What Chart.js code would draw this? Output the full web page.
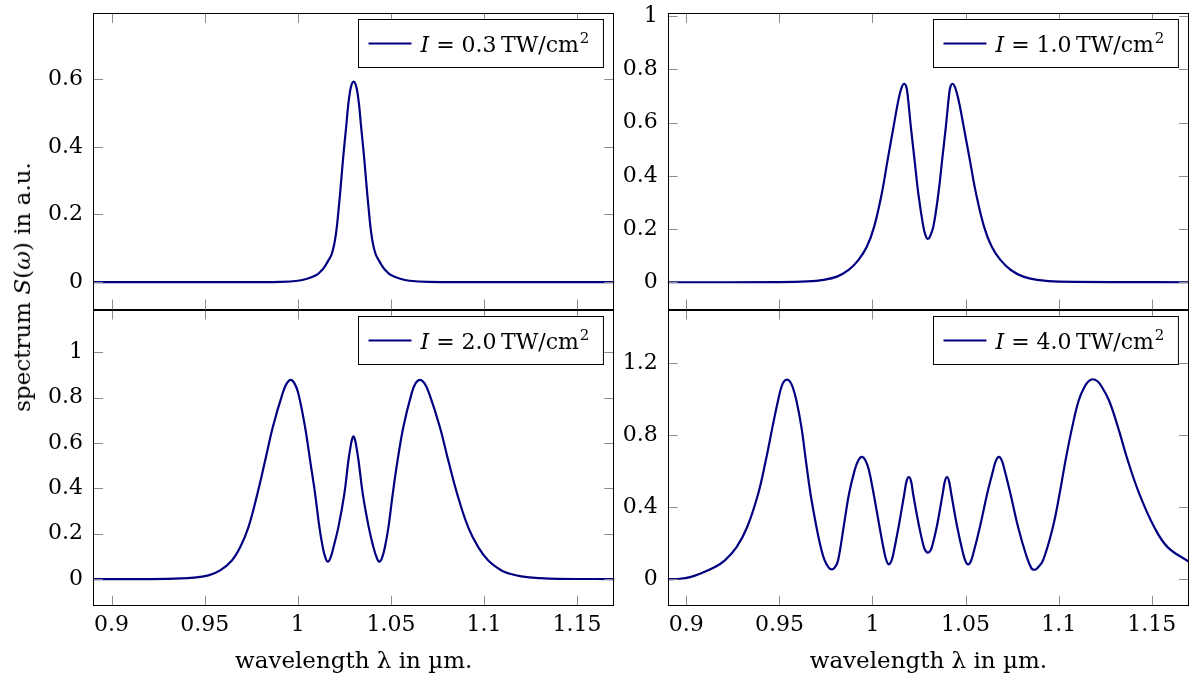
<!DOCTYPE html>
<html>
<head>
<meta charset="utf-8">
<script src="https://cdn.jsdelivr.net/npm/chart.js@4.4.1/dist/chart.umd.min.js"></script>
<style>
  body { margin: 0; background: #fff; width: 1192px; height: 682px; overflow: hidden; position: relative; font-family: "DejaVu Serif", serif; }
  .panel { position: absolute; }
  .panel canvas { display: block; }
  #ytitle { position: absolute; left: 22px; top: 287px; transform: translate(-50%, -50%) rotate(-90deg); white-space: nowrap; font-size: 23px; color: #000; }
</style>
</head>
<body>
<div class="panel" style="left:0;top:0"><canvas id="c03" width="620" height="312"></canvas></div>
<div class="panel" style="left:600px;top:0"><canvas id="c10" width="592" height="312"></canvas></div>
<div class="panel" style="left:0;top:300px"><canvas id="c20" width="620" height="382"></canvas></div>
<div class="panel" style="left:600px;top:300px"><canvas id="c40" width="592" height="382"></canvas></div>
<div id="ytitle">spectrum <i>S</i>(<i>ω</i>) in a.u.</div>
<script>
// wavelength ticks shared by all panels
const xTicks = [0.9, 0.95, 1, 1.05, 1.1, 1.15];

// I = 0.3 TW/cm^2
const lam03 = [0.89, 0.95, 0.98, 0.99, 1.0, 1.005, 1.01, 1.012, 1.014, 1.016, 1.018, 1.019, 1.02, 1.021, 1.022,
  1.023, 1.024, 1.025, 1.026, 1.027, 1.028, 1.029, 1.03, 1.031, 1.032, 1.033, 1.034, 1.035, 1.036, 1.037, 1.038,
  1.039, 1.04, 1.041, 1.042, 1.044, 1.046, 1.048, 1.05, 1.055, 1.06, 1.07, 1.1, 1.17];
const spec03 = [0, 0, 0, 0.0005, 0.004, 0.01, 0.021, 0.03, 0.042, 0.06, 0.08, 0.098, 0.125, 0.165, 0.22,
  0.28, 0.345, 0.405, 0.46, 0.52, 0.562, 0.586, 0.593, 0.586, 0.562, 0.52, 0.46, 0.405, 0.345, 0.28, 0.22,
  0.165, 0.125, 0.098, 0.08, 0.06, 0.042, 0.03, 0.021, 0.01, 0.004, 0.0005, 0, 0];
const yTicks03 = [0, 0.2, 0.4, 0.6];

// I = 1.0 TW/cm^2
const lam10 = [0.89, 0.95, 0.965, 0.9738, 0.9809, 0.9872, 0.9925, 0.997, 1.0009, 1.005, 1.0081, 1.0113, 1.0132, 1.0147,
  1.016, 1.017, 1.018, 1.0188, 1.0206, 1.0226, 1.0246, 1.0273, 1.0286, 1.0298, 1.031, 1.0327, 1.0354, 1.0374, 1.0394,
  1.0412, 1.042, 1.043, 1.044, 1.0454, 1.047, 1.049, 1.0523, 1.0556, 1.0599, 1.064, 1.0687, 1.0743, 1.081, 1.0884,
  1.1, 1.17];
const spec10 = [0, 0.0005, 0.003, 0.009, 0.021, 0.046, 0.084, 0.134, 0.209, 0.334, 0.459, 0.584, 0.659, 0.709,
  0.738, 0.746, 0.738, 0.709, 0.584, 0.459, 0.334, 0.209, 0.174, 0.1625, 0.174, 0.209, 0.334, 0.459, 0.584,
  0.709, 0.738, 0.746, 0.738, 0.709, 0.659, 0.584, 0.459, 0.334, 0.209, 0.134, 0.084, 0.046, 0.021, 0.009,
  0.002, 0];
const yTicks10 = [0, 0.2, 0.4, 0.6, 0.8, 1];

// I = 2.0 TW/cm^2
const lam20 = [0.89, 0.93, 0.944, 0.952, 0.9583, 0.9646, 0.9691, 0.9735, 0.9783, 0.9825, 0.9866, 0.9918, 0.994,
  0.9962, 0.9983, 1.0003, 1.0039, 1.0066, 1.0093, 1.0116, 1.0134, 1.0149, 1.0161, 1.0175, 1.0192, 1.0218, 1.025,
  1.0272, 1.0283, 1.0291, 1.0299, 1.0307, 1.0315, 1.0326, 1.0349, 1.0381, 1.0406, 1.0425, 1.0438, 1.0452, 1.0468,
  1.0487, 1.051, 1.0536, 1.0567, 1.0611, 1.0633, 1.0656, 1.068, 1.0706, 1.0763, 1.0808, 1.0856, 1.0915, 1.0969,
  1.1023, 1.1094, 1.1139, 1.12, 1.13, 1.14, 1.17];
const spec20 = [0, 0.001, 0.006, 0.016, 0.038, 0.082, 0.141, 0.229, 0.376, 0.524, 0.671, 0.818, 0.862,
  0.879, 0.862, 0.818, 0.671, 0.524, 0.376, 0.229, 0.141, 0.092, 0.0765, 0.092, 0.141, 0.229, 0.376,
  0.524, 0.582, 0.615, 0.629, 0.615, 0.582, 0.524, 0.376, 0.229, 0.141, 0.092, 0.0765, 0.092, 0.141,
  0.229, 0.376, 0.524, 0.671, 0.818, 0.864, 0.879, 0.864, 0.818, 0.671, 0.524, 0.376, 0.229, 0.141,
  0.082, 0.038, 0.0235, 0.012, 0.004, 0.001, 0];
const yTicks20 = [0, 0.2, 0.4, 0.6, 0.8, 1];

// I = 4.0 TW/cm^2
const lam40 = [0.89, 0.8966, 0.902, 0.9073, 0.9154, 0.9207, 0.927, 0.9327, 0.9386, 0.9427, 0.9463, 0.9493, 0.9511,
  0.9525, 0.9541, 0.9556, 0.9571, 0.9591, 0.9618, 0.9642, 0.9667, 0.9699, 0.9722, 0.9743, 0.9765, 0.9781, 0.9797,
  0.9815, 0.9845, 0.9874, 0.9904, 0.9923, 0.9943, 0.9963, 0.9981, 1.0006, 1.0038, 1.0065, 1.0077, 1.0088, 1.01,
  1.0112, 1.014, 1.0171, 1.0183, 1.0195, 1.0207, 1.0218, 1.0251, 1.0276, 1.0287, 1.0298, 1.0309, 1.0319, 1.0345,
  1.0377, 1.0389, 1.04, 1.0411, 1.0423, 1.0455, 1.0487, 1.0502, 1.0514, 1.0526, 1.0541, 1.0577, 1.0616, 1.0648,
  1.0663, 1.0679, 1.0695, 1.071, 1.0741, 1.0782, 1.0823, 1.0853, 1.0869, 1.0885, 1.0916, 1.0969, 1.1005, 1.1037,
  1.1073, 1.1108, 1.1139, 1.1162, 1.1183, 1.1207, 1.1231, 1.127, 1.1318, 1.1371, 1.1433, 1.1513, 1.1585, 1.17];
const spec40 = [0, 0.002, 0.011, 0.03, 0.067, 0.104, 0.178, 0.29, 0.475, 0.661, 0.847, 0.995, 1.07,
  1.1, 1.11, 1.1, 1.07, 0.995, 0.847, 0.661, 0.475, 0.29, 0.178, 0.104, 0.064, 0.054, 0.064,
  0.104, 0.29, 0.475, 0.605, 0.659, 0.68, 0.659, 0.605, 0.475, 0.29, 0.141, 0.097, 0.082, 0.097,
  0.141, 0.29, 0.475, 0.545, 0.568, 0.545, 0.475, 0.29, 0.178, 0.155, 0.147, 0.155, 0.178, 0.29,
  0.475, 0.545, 0.568, 0.545, 0.475, 0.29, 0.141, 0.094, 0.082, 0.094, 0.141, 0.29, 0.475, 0.605,
  0.659, 0.68, 0.659, 0.605, 0.475, 0.29, 0.141, 0.061, 0.052, 0.061, 0.104, 0.29, 0.475, 0.661,
  0.847, 0.995, 1.07, 1.102, 1.112, 1.102, 1.07, 0.995, 0.847, 0.661, 0.475, 0.29, 0.178, 0.096];
const yTicks40 = [0, 0.4, 0.8, 1.2];

const FONT = '"DejaVu Serif", serif';
const NAVY = "#000080";
const TICK_LEN = 10;

// pgfplots-like box: frame, ticks pointing inwards on all four sides, legend in the upper right
const framePlugin = {
  id: "frame",
  afterDatasetsDraw(chart) {
    const { ctx, chartArea: a, scales } = chart;
    ctx.save();
    ctx.strokeStyle = "#8c8c8c";
    ctx.lineWidth = 1;
    ctx.beginPath();
    scales.x.ticks.forEach((t) => {
      const px = Math.round(scales.x.getPixelForValue(t.value)) + 0.5;
      ctx.moveTo(px, a.top); ctx.lineTo(px, a.top + TICK_LEN);
      ctx.moveTo(px, a.bottom); ctx.lineTo(px, a.bottom - TICK_LEN);
    });
    scales.y.ticks.forEach((t) => {
      const py = Math.round(scales.y.getPixelForValue(t.value)) + 0.5;
      ctx.moveTo(a.left, py); ctx.lineTo(a.left + TICK_LEN, py);
      ctx.moveTo(a.right, py); ctx.lineTo(a.right - TICK_LEN, py);
    });
    ctx.stroke();

    ctx.strokeStyle = "#000";
    const l = Math.round(a.left) + 0.5, t = Math.round(a.top) + 0.5;
    const r = Math.round(a.right) - 0.5, b = Math.round(a.bottom) - 0.5;
    ctx.strokeRect(l, t, r - l, b - t);

    // legend
    const label = chart.data.datasets[0].label;
    const italic = "italic 22px " + FONT, normal = "22px " + FONT, small = "15px " + FONT;
    const mid = " = " + label + "\u2009TW/cm";
    ctx.font = italic; const wI = ctx.measureText("I").width;
    ctx.font = normal; const wMid = ctx.measureText(mid).width;
    ctx.font = small; const wSup = ctx.measureText("2").width;
    const textW = wI + wMid + wSup + 1;
    const bw = 10 + 43 + 9 + textW + 14, bh = 48;
    const bx = Math.round(a.right - 11 - bw) + 0.5, by = Math.round(a.top + 6) + 0.5;
    ctx.fillStyle = "#fff";
    ctx.fillRect(bx, by, bw, bh);
    ctx.strokeRect(bx, by, bw, bh);
    const my = by + bh / 2;
    ctx.strokeStyle = NAVY; ctx.lineWidth = 2.2;
    ctx.beginPath(); ctx.moveTo(bx + 10, my); ctx.lineTo(bx + 53, my); ctx.stroke();
    ctx.fillStyle = "#000";
    ctx.textBaseline = "alphabetic";
    let tx = bx + 62;
    ctx.font = italic; ctx.fillText("I", tx, my + 8); tx += wI;
    ctx.font = normal; ctx.fillText(mid, tx, my + 8); tx += wMid + 1;
    ctx.font = small; ctx.fillText("2", tx, my - 1);
    ctx.restore();
  },
};

function makePanel(id, lam, spec, yTicks, yMin, yMax, intensity, cfg) {
  const tickFont = { family: FONT, size: 22 };
  return new Chart(document.getElementById(id), {
    type: "line",
    data: {
      datasets: [{
        label: intensity,
        data: lam.map((x, i) => ({ x: x, y: spec[i] })),
        borderColor: NAVY,
        borderWidth: 2.2,
        pointRadius: 0,
        fill: false,
        tension: 0.4,
      }],
    },
    options: {
      responsive: false,
      animation: false,
      events: [],
      layout: { padding: { top: cfg.padTop, right: cfg.padRight, bottom: cfg.padBottom, left: 0 } },
      plugins: { legend: { display: false }, tooltip: { enabled: false } },
      scales: {
        x: {
          type: "linear",
          min: 0.89,
          max: 1.17,
          afterBuildTicks: (s) => { s.ticks = xTicks.map((v) => ({ value: v })); },
          afterFit: (s) => { s.height = cfg.xHeight; s.paddingLeft = 0; s.paddingRight = 0; },
          grid: { display: false, drawTicks: false },
          border: { display: false },
          ticks: {
            display: cfg.bottom,
            autoSkip: false,
            maxRotation: 0,
            padding: 6.5,
            color: "#000",
            font: tickFont,
            callback: (v) => String(v),
          },
          title: {
            display: cfg.bottom,
            text: "wavelength λ in µm.",
            color: "#000",
            font: { family: FONT, size: 23 },
            padding: { top: 0, bottom: 6 },
          },
        },
        y: {
          type: "linear",
          min: yMin,
          max: yMax,
          afterBuildTicks: (s) => { s.ticks = yTicks.map((v) => ({ value: v })); },
          afterFit: (s) => { s.width = cfg.yWidth; s.paddingTop = 0; s.paddingBottom = 0; },
          grid: { display: false, drawTicks: false },
          border: { display: false },
          ticks: {
            padding: 10,
            color: "#000",
            font: tickFont,
            callback: (v) => String(v),
          },
        },
      },
    },
    plugins: [framePlugin],
  });
}

makePanel("c03", lam03, spec03, yTicks03, -0.081, 0.796, "0.3",
  { padTop: 13, padRight: 5.7, padBottom: 2.5, xHeight: 0, yWidth: 93, bottom: false });
makePanel("c10", lam10, spec10, yTicks10, -0.1025, 1.012, "1.0",
  { padTop: 13, padRight: 3, padBottom: 2.5, xHeight: 0, yWidth: 67.7, bottom: false });
makePanel("c20", lam20, spec20, yTicks20, -0.1175, 1.189, "2.0",
  { padTop: 9.5, padRight: 5.7, padBottom: 0, xHeight: 76.3, yWidth: 93, bottom: true });
makePanel("c40", lam40, spec40, yTicks40, -0.148, 1.5, "4.0",
  { padTop: 9.5, padRight: 3, padBottom: 0, xHeight: 76.3, yWidth: 67.7, bottom: true });
</script>
</body>
</html>
